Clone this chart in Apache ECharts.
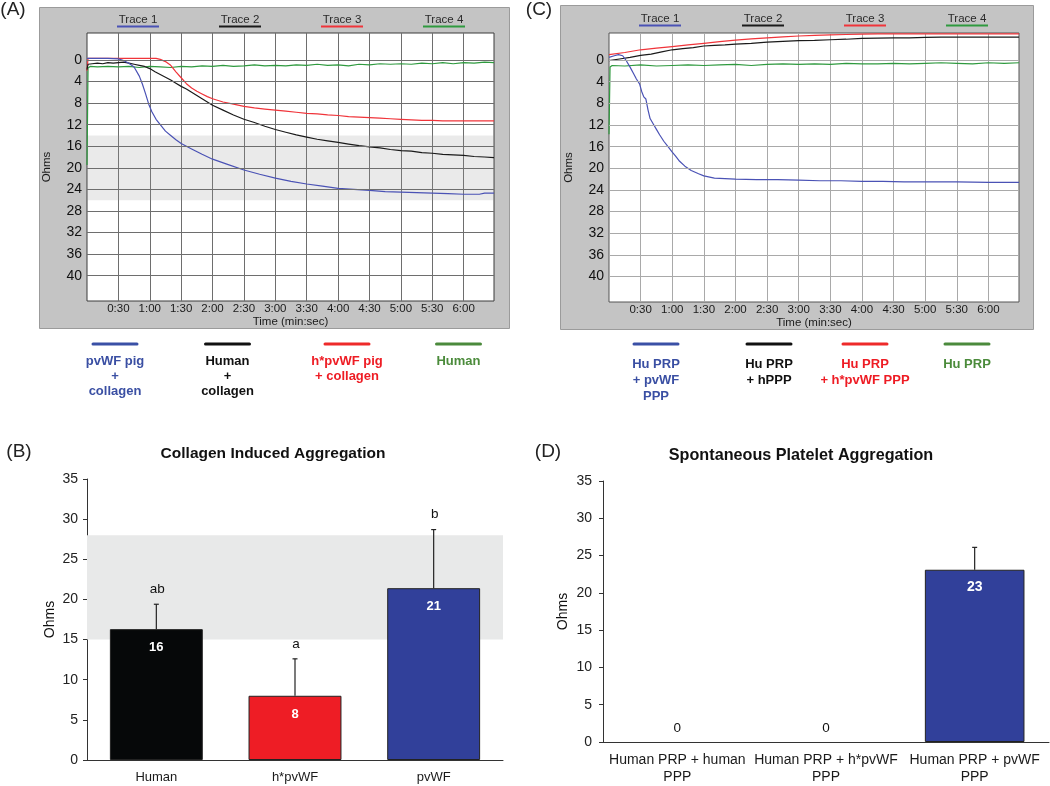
<!DOCTYPE html>
<html><head><meta charset="utf-8">
<script src="https://cdn.jsdelivr.net/npm/echarts@6/dist/echarts.min.js"></script>
<style>html,body{margin:0;padding:0;background:#fff}#c{width:1050px;height:786px}</style>
</head><body><div id="c"></div>
<script>
const FONT = '"Liberation Sans", Arial, Helvetica, sans-serif';

// ---------- Panel A / C : aggregometer traces (t in seconds, Ohms) ----------
const timeTicks = [30, 60, 90, 120, 150, 180, 210, 240, 270, 300, 330, 360];
const ohmTicks = [0, 4, 8, 12, 16, 20, 24, 28, 32, 36, 40];
const traceNames = ['Trace 1', 'Trace 2', 'Trace 3', 'Trace 4'];
const bandA = [14, 26];

const aTrace1 = [[0,-0.3],[10,-0.3],[20,-0.3],[30,-0.2],[35,0.1],[40,0.6],[45,1.3],[50,3.0],[53,4.5],[56,6.3],[59,8.2],[62,9.6],[66,11.0],[70,12.0],[75,13.2],[80,14.0],[85,14.8],[90,15.5],[100,16.5],[110,17.5],[120,18.4],[135,19.4],[150,20.4],[165,21.2],[180,21.9],[195,22.5],[210,23.0],[225,23.4],[240,23.8],[255,24.0],[270,24.2],[285,24.4],[300,24.5],[315,24.6],[330,24.7],[345,24.8],[360,24.9],[375,24.9],[380,24.7],[389,24.7]];
const aTrace2 = [[0,1.8],[1,0.8],[5,0.7],[10,0.6],[15,0.7],[20,0.5],[25,0.6],[30,0.5],[35,0.4],[40,0.6],[45,0.8],[50,1.0],[55,1.2],[60,1.6],[65,2.2],[70,2.7],[75,3.2],[80,3.7],[85,4.3],[90,4.9],[95,5.4],[100,6.0],[110,7.2],[120,8.4],[130,9.3],[140,10.2],[150,11.0],[160,11.6],[170,12.3],[180,12.9],[190,13.4],[200,13.9],[210,14.3],[220,14.7],[230,15.0],[240,15.3],[250,15.6],[260,15.9],[270,16.1],[280,16.3],[290,16.6],[300,16.8],[310,16.9],[320,17.2],[330,17.3],[340,17.5],[350,17.6],[360,17.7],[370,17.9],[380,18.0],[389,18.1]];
const aTrace3 = [[0,2.0],[1,-0.3],[10,-0.3],[20,-0.3],[30,-0.3],[40,-0.3],[50,-0.3],[60,-0.3],[66,-0.3],[70,-0.1],[75,0.3],[80,1.0],[85,2.2],[90,3.3],[95,4.4],[100,5.2],[105,5.8],[110,6.3],[115,6.8],[120,7.2],[130,7.8],[140,8.2],[150,8.6],[160,8.9],[170,9.1],[180,9.3],[190,9.5],[200,9.7],[210,9.9],[220,10.0],[230,10.2],[240,10.3],[250,10.5],[260,10.6],[270,10.7],[280,10.8],[290,10.9],[300,11.0],[310,11.1],[320,11.2],[330,11.2],[340,11.3],[350,11.3],[360,11.3],[370,11.3],[389,11.3]];
const aTrace4 = [[0,19.5],[1,1.5],[3,1.2],[10,1.3],[20,1.2],[30,1.3],[40,1.2],[50,1.4],[60,1.2],[70,1.3],[80,1.4],[90,1.2],[100,1.3],[110,1.1],[120,1.2],[130,1.0],[140,1.2],[150,1.1],[160,0.9],[170,1.1],[180,1.0],[190,1.1],[200,0.9],[210,1.0],[220,0.8],[230,1.0],[240,0.9],[250,1.1],[260,0.8],[270,0.9],[280,0.7],[290,0.8],[300,0.7],[310,0.8],[320,0.6],[330,0.7],[340,0.5],[350,0.7],[360,0.5],[370,0.6],[380,0.4],[389,0.5]];

const cTrace1 = [[0,-0.5],[5,-0.8],[9,-1.0],[13,-0.8],[16,0.0],[20,1.3],[23,2.4],[26,3.5],[29,4.4],[31,5.8],[33,6.8],[35,7.2],[37,9.2],[39,10.8],[42,11.8],[45,12.8],[48,13.8],[52,15.0],[56,16.0],[60,17.0],[63,17.7],[67,18.7],[72,19.6],[78,20.4],[85,21.0],[90,21.4],[100,21.8],[110,21.9],[120,22.0],[140,22.1],[160,22.1],[180,22.2],[200,22.3],[220,22.3],[240,22.4],[260,22.4],[280,22.5],[300,22.5],[330,22.5],[360,22.6],[389,22.6]];
const cTrace2 = [[0,0.1],[10,-0.2],[20,-0.5],[30,-0.85],[40,-1.1],[50,-1.5],[60,-1.9],[70,-2.1],[80,-2.3],[90,-2.6],[100,-2.7],[110,-2.8],[120,-2.95],[135,-3.1],[150,-3.3],[165,-3.45],[180,-3.6],[195,-3.65],[210,-3.75],[225,-3.85],[240,-4.0],[255,-4.05],[270,-4.1],[285,-4.1],[300,-4.2],[315,-4.25],[330,-4.25],[360,-4.25],[389,-4.25]];
const cTrace3 = [[0,-1.0],[15,-1.4],[30,-1.9],[45,-2.2],[60,-2.5],[75,-2.8],[90,-3.1],[105,-3.4],[120,-3.7],[135,-3.9],[150,-4.1],[165,-4.3],[180,-4.45],[195,-4.55],[210,-4.65],[225,-4.72],[240,-4.8],[255,-4.85],[270,-4.85],[300,-4.85],[330,-4.85],[360,-4.85],[389,-4.85]];
const cTrace4 = [[0,13.7],[1,1.3],[3,1.0],[15,1.1],[30,0.9],[45,1.1],[60,1.0],[75,0.9],[90,1.0],[105,0.9],[120,0.8],[135,1.0],[150,0.8],[165,0.7],[180,0.8],[195,0.7],[210,0.8],[225,0.6],[240,0.7],[255,0.7],[270,0.6],[285,0.7],[300,0.6],[315,0.5],[330,0.6],[345,0.7],[360,0.5],[375,0.6],[389,0.5]];

const aLegend = ['pvWF pig\n+\ncollagen', 'Human\n+\ncollagen', 'h*pvWF pig\n+ collagen', 'Human'];
const cLegend = ['Hu PRP\n+ pvWF\nPPP', 'Hu PRP\n+ hPPP', 'Hu PRP\n+ h*pvWF PPP', 'Hu PRP'];

// ---------- Panel B ----------
const bCategories = ['Human', 'h*pvWF', 'pvWF'];
const bValues = [16.3, 8.0, 21.4];
const bErrors = [3.1, 4.6, 7.3];
const bLetters = ['ab', 'a', 'b'];
const bBand = [15, 28];

// ---------- Panel D ----------
const dCategories = ['Human PRP + human\nPPP', 'Human PRP + h*pvWF\nPPP', 'Human PRP + pvWF\nPPP'];
const dValues = [0, 0, 23.1];
const dErrors = [0, 0, 3.0];

// ---------- styles ----------
const traceColors = ['#4a52b5', '#1a1a1a', '#f0343a', '#2f9a3f'];
const legendLineColors = ['#3a50a6', '#111111', '#ee2a2a', '#4b8a3c'];
const legendTextColors = ['#3a4fa3', '#111111', '#ee1c24', '#4b8b3b'];
const bColors = ['#060809', '#ee1d25', '#31409a'];
const dColors = ['#060809', '#ee1d25', '#31409a'];

function fmtTime(v) {
  if (v < 30 || v > 360 || v % 30 !== 0) return '';
  const m = Math.floor(v / 60), s = v % 60;
  return m + ':' + (s < 10 ? '0' + s : s);
}
function fmtOhm(v) {
  const r = Math.round(v);
  return (Math.abs(v - r) < 1e-6 && r >= 0 && r <= 40 && r % 4 === 0) ? String(r) : '';
}

const chart = echarts.init(document.getElementById('c'), null, {renderer: 'canvas'});

const grids = [
  {left: 87, top: 33, width: 407, height: 268, show: true, backgroundColor: '#ffffff', borderColor: '#3a3a3a', borderWidth: 1},
  {left: 609, top: 33, width: 410, height: 269, show: true, backgroundColor: '#ffffff', borderColor: '#555555', borderWidth: 1},
  {left: 87, top: 479, width: 416, height: 283},
  {left: 603, top: 481, width: 446, height: 264}
];

function traceX(gi, gridColor) {
  return {
    type: 'value', gridIndex: gi, min: 0, max: 389, interval: 30,
    name: 'Time (min:sec)', nameLocation: 'middle', nameGap: 14,
    nameTextStyle: {fontFamily: FONT, fontSize: 11.5, color: '#1a1a1a'},
    axisLine: {show: false}, axisTick: {show: false},
    axisLabel: {formatter: fmtTime, fontFamily: FONT, fontSize: 11.5, color: '#1a1a1a', margin: 2},
    splitLine: {show: true, showMinLine: false, showMaxLine: false, lineStyle: {color: gridColor, width: 1}}
  };
}
function traceY(gi, min, max) {
  return {
    type: 'value', gridIndex: gi, inverse: true, min: min, max: max, interval: 1,
    name: 'Ohms', nameLocation: 'middle', nameGap: 34, nameRotate: 90,
    nameTextStyle: {fontFamily: FONT, fontSize: 11.5, color: '#1a1a1a'},
    axisLine: {show: false}, axisTick: {show: false}, splitLine: {show: false},
    axisLabel: {formatter: fmtOhm, fontFamily: FONT, fontSize: 14, color: '#111', margin: 5}
  };
}

function traceSeries(gi, data, ci) {
  return {
    type: 'line', xAxisIndex: gi, yAxisIndex: gi, data: data, showSymbol: false, symbol: 'none',
    lineStyle: {color: traceColors[ci], width: 1.2}, itemStyle: {color: traceColors[ci]},
    z: 3, silent: true, animation: false, clip: true
  };
}
function gridLineSeries(gi, color, band) {
  const s = {
    type: 'line', xAxisIndex: gi, yAxisIndex: gi, data: [], z: 1, silent: true, animation: false,
    markLine: {
      silent: true, symbol: 'none', animation: false,
      label: {show: false}, emphasis: {disabled: true},
      lineStyle: {type: 'solid', color: color, width: 1},
      data: ohmTicks.map(v => ({yAxis: v}))
    }
  };
  if (band) {
    s.markArea = {
      silent: true, animation: false,
      itemStyle: {color: 'rgba(150,150,150,0.2)'},
      emphasis: {disabled: true},
      data: [[{yAxis: band[0]}, {yAxis: band[1]}]]
    };
  }
  return s;
}

function barAxisY(gi, margin, fontSize, nameGap) {
  return {
    type: 'value', gridIndex: gi, min: 0, max: 35, interval: 5,
    name: 'Ohms', nameLocation: 'middle', nameGap: nameGap, nameRotate: 90,
    nameTextStyle: {fontFamily: FONT, fontSize: 14, color: '#111'},
    axisLine: {show: true, lineStyle: {color: '#333', width: 1}},
    axisTick: {show: true, inside: false, length: 4, lineStyle: {color: '#333'}},
    splitLine: {show: false},
    axisLabel: {fontFamily: FONT, fontSize: fontSize, color: '#222', margin: margin}
  };
}
function barAxisX(gi, cats, fontSize, margin) {
  return {
    type: 'category', gridIndex: gi, data: cats,
    axisLine: {show: true, onZero: false, lineStyle: {color: '#333', width: 1}},
    axisTick: {show: false},
    axisLabel: {fontFamily: FONT, fontSize: fontSize, color: '#1a1a1a', margin: margin, lineHeight: 17, interval: 0}
  };
}

function errorSeries(gi, values, errors, letters, fontSize) {
  const data = [];
  values.forEach((v, i) => { if (errors[i] > 0) data.push([i, v, v + errors[i], letters ? letters[i] : '']); });
  return {
    type: 'custom', xAxisIndex: gi, yAxisIndex: gi, data: data, z: 4, silent: true, animation: false,
    renderItem: function (params, api) {
      const i = api.value(0);
      const p1 = api.coord([i, api.value(1)]);
      const p2 = api.coord([i, api.value(2)]);
      const letter = data[params.dataIndex][3];
      const children = [
        {type: 'line', shape: {x1: p1[0], y1: p1[1], x2: p2[0], y2: p2[1]}, style: {stroke: '#222', lineWidth: 1.2}},
        {type: 'line', shape: {x1: p2[0] - 2.5, y1: p2[1], x2: p2[0] + 2.5, y2: p2[1]}, style: {stroke: '#222', lineWidth: 1.2}}
      ];
      if (letter) {
        children.push({type: 'text', x: p2[0] + 1, y: p2[1] - 15,
          style: {text: letter, fontFamily: FONT, fontSize: fontSize, fill: '#111', align: 'center', verticalAlign: 'middle'}});
      }
      return {type: 'group', children: children};
    }
  };
}

function barSeries(gi, values, colors, labelSize, labelDist) {
  return {
    type: 'bar', xAxisIndex: gi, yAxisIndex: gi, barWidth: '67%', z: 2, silent: true, animation: false,
    data: values.map((v, i) => {
      const item = {value: v, itemStyle: {color: colors[i], borderColor: '#222', borderWidth: 1}};
      if (v === 0) {
        item.label = {show: true, position: 'top', distance: 7, color: '#111', fontWeight: 'normal', fontSize: 13.5, fontFamily: FONT};
        item.itemStyle.borderWidth = 0;
      }
      return item;
    }),
    label: {show: true, position: 'insideTop', distance: labelDist, color: '#ffffff', fontWeight: 'bold', fontSize: labelSize, fontFamily: FONT,
      formatter: p => String(Math.round(p.value))}
  };
}
function bandSeries(gi, band) {
  return {
    type: 'line', xAxisIndex: gi, yAxisIndex: gi, data: [], z: 1, silent: true, animation: false,
    markArea: {silent: true, animation: false, itemStyle: {color: '#e8e9e9'}, emphasis: {disabled: true},
      data: [[{yAxis: band[0]}, {yAxis: band[1]}]]}
  };
}

// ---------- graphic decorations ----------
function txt(x, y, text, o) {
  o = o || {};
  return {type: 'text', x: x, y: y, z: 10, silent: true,
    style: {text: text, fontFamily: FONT, fontSize: o.size || 12, fontWeight: o.weight || 'normal',
      fill: o.color || '#111', align: o.align || 'center', verticalAlign: 'middle', lineHeight: o.lh || 15}};
}
const graphics = [];
graphics.push({type: 'rect', z: -1, silent: true, shape: {x: 39.5, y: 7.5, width: 470, height: 321}, style: {fill: '#c4c4c4', stroke: '#9b9b9b', lineWidth: 1}});
graphics.push({type: 'rect', z: -1, silent: true, shape: {x: 560.5, y: 5.5, width: 473, height: 324}, style: {fill: '#c4c4c4', stroke: '#9b9b9b', lineWidth: 1}});
graphics.push(txt(13, 10, '(A)', {size: 19, color: '#222'}));
graphics.push(txt(539, 10, '(C)', {size: 19, color: '#222'}));
graphics.push(txt(19, 452, '(B)', {size: 19, color: '#222'}));
graphics.push(txt(548, 452, '(D)', {size: 19, color: '#222'}));
graphics.push(txt(273, 454, 'Collagen Induced Aggregation', {size: 15.5, weight: 'bold'}));
graphics.push(txt(801, 456, 'Spontaneous Platelet Aggregation', {size: 16.2, weight: 'bold'}));
const aHeadX = [138, 240, 342, 444];
const cHeadX = [660, 763, 865, 967];
[[aHeadX, 20], [cHeadX, 19]].forEach(([xs, y]) => {
  xs.forEach((x, i) => {
    graphics.push(txt(x, y, traceNames[i], {size: 11.5, color: '#2a2a2a'}));
    graphics.push({type: 'rect', z: 10, silent: true, shape: {x: x - 21, y: y + 5.5, width: 42, height: 2}, style: {fill: traceColors[i]}});
  });
});
const aLegX = [115, 227.5, 347, 458.5];
const cLegX = [656, 769, 865, 967];
[[aLegX, aLegend, 15, 361], [cLegX, cLegend, 16, 364]].forEach(([xs, labels, lh, ty]) => {
  xs.forEach((x, i) => {
    graphics.push({type: 'rect', z: 10, silent: true, shape: {x: x - 23.5, y: 342.5, width: 47, height: 3, r: 1.5}, style: {fill: legendLineColors[i]}});
    const lines = labels[i].split('\n');
    lines.forEach((ln, k) => graphics.push(txt(x, ty + k * lh, ln, {size: 13, weight: 'bold', color: legendTextColors[i]})));
  });
});

const option = {
  animation: false,
  backgroundColor: '#ffffff',
  textStyle: {fontFamily: FONT},
  grid: grids,
  xAxis: [traceX(0, '#6e6e6e'), traceX(1, '#a9a9a9'), barAxisX(2, bCategories, 13, 9), barAxisX(3, dCategories, 14, 10)],
  yAxis: [traceY(0, -5, 44.7), traceY(1, -5, 44.7), barAxisY(2, 9, 14, 30), barAxisY(3, 11, 14, 33)],
  series: [
    gridLineSeries(0, '#6e6e6e', bandA),
    traceSeries(0, aTrace4, 3), traceSeries(0, aTrace3, 2), traceSeries(0, aTrace2, 1), traceSeries(0, aTrace1, 0),
    gridLineSeries(1, '#a9a9a9', null),
    traceSeries(1, cTrace4, 3), traceSeries(1, cTrace2, 1), traceSeries(1, cTrace3, 2), traceSeries(1, cTrace1, 0),
    bandSeries(2, bBand),
    barSeries(2, bValues, bColors, 13, 12),
    errorSeries(2, bValues, bErrors, bLetters, 13.5),
    barSeries(3, dValues, dColors, 14, 10),
    errorSeries(3, dValues, dErrors, null, 13.5)
  ],
  graphic: {elements: graphics}
};
chart.setOption(option);
</script>
</body></html>
